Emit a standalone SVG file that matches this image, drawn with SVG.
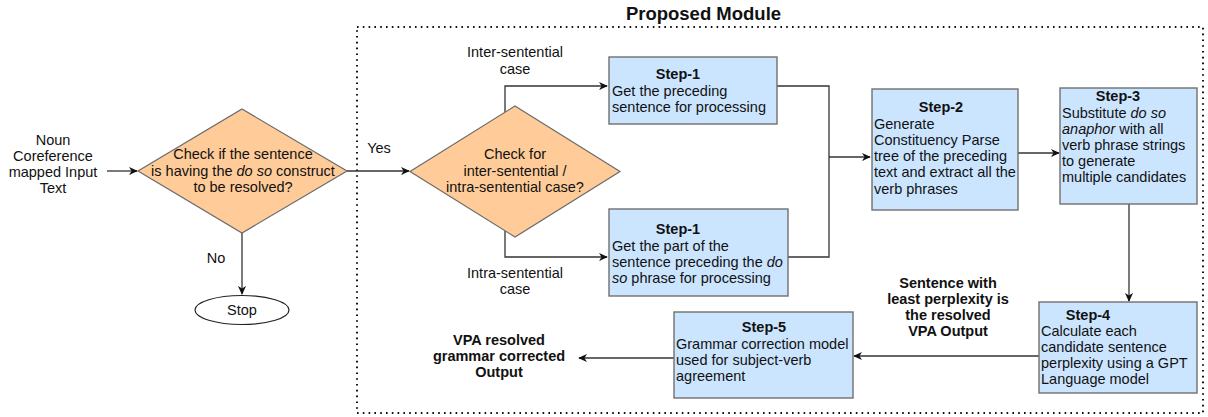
<svg xmlns="http://www.w3.org/2000/svg" width="1208" height="417" viewBox="0 0 1208 417">
  <defs>
    <marker id="arrow" viewBox="0 0 10 10" refX="9" refY="5" markerWidth="9" markerHeight="9" markerUnits="userSpaceOnUse" orient="auto">
      <path d="M0,0.5 L10,5 L0,9.5 L3,5 z" fill="#111"/>
    </marker>
    <style>
      text { font-family: "Liberation Sans", Arial, Helvetica, sans-serif; font-size: 14.5px; fill: #111; }
      .c { text-anchor: middle; }
      .b { font-weight: bold; }
      .i { font-style: italic; }
      .title { font-size: 18.5px; font-weight: bold; text-anchor: middle; }
      .decision { fill: #ffcc99; stroke: #6a6a6a; stroke-width: 1.2; }
      .step { fill: #cce5ff; stroke: #707070; stroke-width: 1.4; }
      .terminal { fill: #ffffff; stroke: #222; stroke-width: 1.2; }
      .edge { fill: none; stroke: #333; stroke-width: 1.3; }
      .arrow { marker-end: url(#arrow); }
      .module { fill: none; stroke: #111; stroke-width: 2; stroke-dasharray: 1.6 4.2; }
    </style>
  </defs>

  <rect width="1208" height="417" fill="#ffffff"/>

  <!-- proposed module boundary -->
  <g id="module">
    <rect class="module" x="357" y="27" width="846" height="386"/>
    <text class="title" x="703.5" y="20">Proposed Module</text>
  </g>

  <!-- connectors -->
  <g id="connectors">
    <path class="edge arrow" d="M107,171 H137"/>
    <path class="edge arrow" d="M347,171 H409"/>
    <path class="edge arrow" d="M242,233 V294"/>
    <path class="edge arrow" d="M505,113 V86 H607"/>
    <path class="edge arrow" d="M505,231 V257 H607"/>
    <path class="edge" d="M777,86 H829 V257 H788"/>
    <path class="edge arrow" d="M829,157 H870"/>
    <path class="edge arrow" d="M1018,153 H1059"/>
    <path class="edge arrow" d="M1129,204 V301"/>
    <path class="edge arrow" d="M1039,356 H854"/>
    <path class="edge arrow" d="M674,358 H579"/>
    <text class="c" x="379" y="153">Yes</text>
    <text class="c" x="216" y="263">No</text>
    <text class="c" x="515" y="57">Inter-sentential</text>
    <text class="c" x="515" y="73.5">case</text>
    <text class="c" x="515" y="278">Intra-sentential</text>
    <text class="c" x="515" y="294">case</text>
    <text class="c b" x="948" y="288">Sentence with</text>
    <text class="c b" x="948" y="304">least perplexity is</text>
    <text class="c b" x="948" y="320">the resolved</text>
    <text class="c b" x="948" y="336">VPA Output</text>
  </g>

  <g id="input">
    <text class="c" x="53" y="145">Noun</text>
    <text class="c" x="53" y="161">Coreference</text>
    <text class="c" x="53" y="177">mapped Input</text>
    <text class="c" x="53" y="193">Text</text>
  </g>

  <g id="check-doso">
    <polygon class="decision" points="242,109 347,171 242,233 138,171"/>
    <text class="c" x="243" y="159">Check if the sentence</text>
    <text class="c" x="243" y="175.5">is having the <tspan class="i">do so</tspan> construct</text>
    <text class="c" x="243" y="192">to be resolved?</text>
  </g>

  <g id="stop">
    <ellipse class="terminal" cx="242" cy="310" rx="47" ry="14.5"/>
    <text class="c" x="242" y="315">Stop</text>
  </g>

  <g id="check-case">
    <polygon class="decision" points="515,106 620,171.5 515,237 410,171.5"/>
    <text class="c" x="515" y="159">Check for</text>
    <text class="c" x="515" y="175.5">inter-sentential /</text>
    <text class="c" x="515" y="192">intra-sentential case?</text>
  </g>

  <g id="step1-inter">
    <rect class="step" x="609" y="57" width="168" height="67"/>
    <text class="c b" x="678" y="79">Step-1</text>
    <text x="612" y="95.5">Get the preceding</text>
    <text x="612" y="112">sentence for processing</text>
  </g>

  <g id="step1-intra">
    <rect class="step" x="609" y="209" width="179" height="87"/>
    <text class="c b" x="678" y="234">Step-1</text>
    <text x="612" y="250.5">Get the part of the</text>
    <text x="612" y="267">sentence preceding the <tspan class="i">do</tspan></text>
    <text x="612" y="283"><tspan class="i">so</tspan> phrase for processing</text>
  </g>

  <g id="step2">
    <rect class="step" x="872" y="89" width="146" height="121"/>
    <text class="c b" x="941" y="112">Step-2</text>
    <text x="874" y="128.5">Generate</text>
    <text x="874" y="145">Constituency Parse</text>
    <text x="874" y="161">tree of the preceding</text>
    <text x="874" y="177">text and extract all the</text>
    <text x="874" y="193.5">verb phrases</text>
  </g>

  <g id="step3">
    <rect class="step" x="1060" y="88" width="137" height="116"/>
    <text class="c b" x="1118" y="101">Step-3</text>
    <text x="1062" y="117.5">Substitute <tspan class="i">do so</tspan></text>
    <text x="1062" y="134"><tspan class="i">anaphor</tspan> with all</text>
    <text x="1062" y="150">verb phrase strings</text>
    <text x="1062" y="166">to generate</text>
    <text x="1062" y="182">multiple candidates</text>
  </g>

  <g id="step4">
    <rect class="step" x="1039" y="302" width="158" height="91"/>
    <text class="c b" x="1088" y="320">Step-4</text>
    <text x="1041" y="336">Calculate each</text>
    <text x="1041" y="352">candidate sentence</text>
    <text x="1041" y="368">perplexity using a GPT</text>
    <text x="1041" y="384">Language model</text>
  </g>

  <g id="step5">
    <rect class="step" x="674" y="312" width="179" height="86"/>
    <text class="c b" x="764" y="332">Step-5</text>
    <text x="676" y="349">Grammar correction model</text>
    <text x="676" y="365">used for subject-verb</text>
    <text x="676" y="381">agreement</text>
  </g>

  <g id="output">
    <text class="c b" x="499" y="345">VPA resolved</text>
    <text class="c b" x="499" y="361">grammar corrected</text>
    <text class="c b" x="499" y="377">Output</text>
  </g>
</svg>
